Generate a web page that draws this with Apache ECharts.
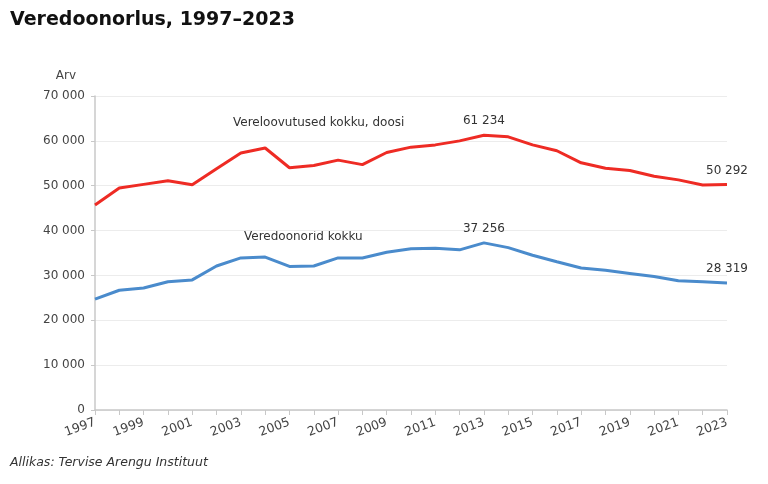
<!DOCTYPE html>
<html><head><meta charset="utf-8">
<script src="https://cdn.jsdelivr.net/npm/echarts@6/dist/echarts.min.js"></script>
<style>html,body{margin:0;padding:0;background:#fff}#c{width:768px;height:484px}</style>
</head><body><div id="c"></div>
<script>
var years = [];
for (var y = 1997; y <= 2023; y++) years.push(String(y));
var donations = [45700,49500,50300,51100,50200,53800,57300,58400,54000,54500,55700,54700,57400,58600,59100,60000,61234,60900,59100,57800,55100,53900,53400,52100,51300,50150,50292];
var donors = [24700,26700,27200,28600,29000,32100,33900,34100,32000,32100,33900,33900,35150,35950,36050,35700,37256,36200,34500,33050,31650,31150,30450,29750,28800,28600,28319];
var donationsName = 'Vereloovutused kokku, doosi';
var donorsName = 'Veredoonorid kokku';
var labelIdx = [16, 26];
var FONT = 'DejaVu Sans';
function fmt(v){ return String(v).replace(/\B(?=(\d{3})+(?!\d))/g, ' '); }
function mkData(arr){
  return arr.map(function(v,i){
    if (labelIdx.indexOf(i) >= 0) return {value:v, label:{show:true, position:'top', distance:8, formatter:function(p){return fmt(p.value);}, color:'#333', fontSize:12, fontFamily:FONT}};
    return v;
  });
}
var chart = echarts.init(document.getElementById('c'));
chart.setOption({
  animation:false,
  textStyle:{fontFamily:FONT},
  title:{text:'Veredoonorlus, 1997\u20132023', left:5, top:6, textStyle:{fontFamily:FONT, fontWeight:'bold', fontSize:19, color:'#111'}},
  grid:{left:95, right:41, top:96, bottom:74},
  xAxis:{type:'category', data:years, boundaryGap:false,
    axisLine:{lineStyle:{color:'#c8c8c8', width:1.5}},
    axisTick:{show:true, interval:0, length:5, lineStyle:{color:'#c8c8c8'}},
    axisLabel:{interval:1, rotate:20, color:'#444', fontSize:12.5, fontFamily:FONT, margin:12}},
  yAxis:{type:'value', min:0, max:70000, interval:10000, name:'Arv', nameLocation:'end', nameGap:14,
    nameTextStyle:{color:'#444', fontSize:12, fontFamily:FONT, align:'right', padding:[0,19,0,0]},
    axisLine:{show:true, lineStyle:{color:'#c8c8c8', width:1.5}},
    axisTick:{show:true, length:4, lineStyle:{color:'#c8c8c8'}},
    splitLine:{lineStyle:{color:'#ececec'}},
    axisLabel:{formatter:function(v){return fmt(v);}, color:'#444', fontSize:12, fontFamily:FONT, margin:10}},
  series:[
    {name:donationsName, type:'line', data:mkData(donations), symbol:'circle', symbolSize:0, showSymbol:true, lineStyle:{color:'#ee2b24', width:3}, itemStyle:{color:'#ee2b24'}},
    {name:donorsName, type:'line', data:mkData(donors), symbol:'circle', symbolSize:0, showSymbol:true, lineStyle:{color:'#4a8bcc', width:3}, itemStyle:{color:'#4a8bcc'}}
  ],
  graphic:[
    {type:'text', left:233, top:117, style:{text:donationsName, fill:'#333', font:'12px '+FONT}},
    {type:'text', left:244, top:231, style:{text:donorsName, fill:'#333', font:'12px '+FONT}},
    {type:'text', left:10, top:456, style:{text:'Allikas: Tervise Arengu Instituut', fill:'#333', font:'italic 12.5px '+FONT}}
  ]
});
</script></body></html>
